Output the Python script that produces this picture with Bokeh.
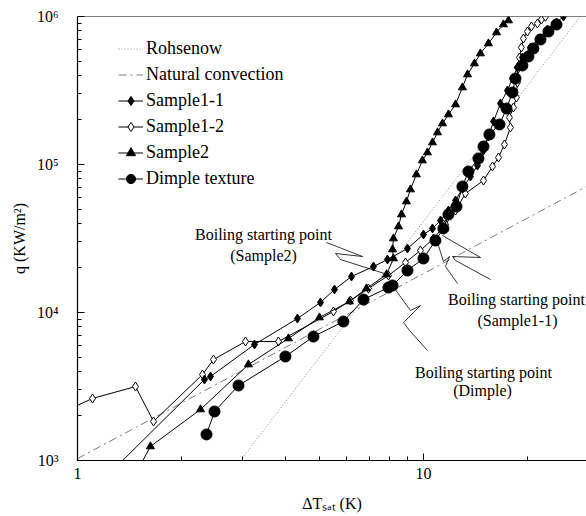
from bokeh.plotting import figure
from bokeh.models import FixedTicker, Legend, LegendItem, Label, Arrow, Span
from bokeh.embed import file_html
from bokeh.resources import INLINE

SERIF = "Liberation Serif"

# ---------------- data ----------------
rohsenow_dt = [2.96, 28.4]
rohsenow_q = [1000, 1000000]

natconv_dt = [1.0, 29.6]
natconv_q = [1030, 71000]

s11_dt = [1.262, 2.328, 2.424, 3.248, 4.323, 5.039, 5.531, 6.194, 7.17, 7.87, 8.99, 10.0,
          10.62, 11.20, 11.81, 12.38, 12.96, 13.67, 14.33, 14.91, 15.41, 15.94, 16.69,
          17.49, 18.08, 18.69, 19.32, 20.38, 21.49, 22.82, 24.24, 25.39]
s11_q = [855, 3525, 3695, 6081, 9100, 11690, 14300, 17500, 20460, 22800, 27060, 33650,
         36970, 41870, 48870, 57110, 68820, 82940, 98450, 124300, 154600, 195200, 258300,
         316200, 381100, 452300, 528400, 617400, 710200, 816600, 911000, 1000000]

s12_dt = [0.899, 1.105, 1.471, 1.659, 2.298, 2.472, 3.059, 3.810, 5.494, 6.152, 6.934,
          7.923, 8.872, 9.802, 10.69, 11.58, 12.38, 13.22, 14.91, 15.83, 16.48, 17.14,
          17.84, 17.72, 18.20, 18.57, 18.69, 18.69, 18.94, 19.19, 19.45, 19.98, 20.52,
          21.35, 21.93, 22.52]
s12_q = [2109, 2624, 3162, 1836, 3811, 4811, 6368, 6368, 10160, 12050, 14520, 17780,
         21770, 26240, 31620, 39350, 48870, 63680, 77950, 96940, 111500, 136500, 177800,
         207800, 242700, 283600, 358100, 452300, 528400, 617400, 710200, 791800, 855900,
         896800, 954300, 995000]

s2_dt = [1.501, 1.625, 2.268, 3.120, 4.072, 5.005, 6.111, 6.843, 7.82, 8.19, 8.14, 8.19,
         8.47, 8.64, 8.93, 9.17, 9.54, 9.93, 10.27, 10.62, 10.98, 11.35, 11.81, 12.38,
         12.96, 13.41, 14.04, 14.61, 15.41, 16.26, 17.03, 17.61]
s2_q = [883, 1244, 2213, 4454, 6675, 9250, 11870, 14520, 18060, 23170, 26660, 31620,
        38110, 45920, 56230, 67760, 85600, 106400, 120500, 140800, 164500, 189200, 217700,
        254300, 331300, 405600, 481400, 562300, 657100, 779600, 883100, 939600]

dim_dt = [2.360, 2.489, 2.920, 3.99, 4.81, 5.87, 6.71, 7.92, 8.14, 8.99, 10.0, 10.83,
          11.42, 11.81, 12.46, 12.96, 13.49, 14.42, 14.91, 15.51, 16.59, 17.38, 18.08,
          18.45, 19.32, 20.11, 20.79, 21.79, 22.98, 24.24]
dim_q = [1500, 2143, 3213, 5043, 6880, 8690, 12240, 14750, 15220, 19220, 23170, 30660,
         36970, 45920, 52030, 71020, 89700, 109800, 132300, 159500, 186400, 239000, 306600,
         381100, 466700, 536700, 607900, 699100, 791800, 883100]

x_major = [1, 10]
x_major_labels = ["1", "10"]
x_minor = [2, 3, 4, 5, 6, 7, 8, 9, 20, 30]
y_major = [1000, 10000, 100000, 1000000]
y_major_labels = ["10\u00b3", "10\u2074", "10\u2075", "10\u2076"]
y_minor = [m * d for d in (1000, 10000, 100000) for m in range(2, 10)]

x_title = "\u0394T\u209b\u2090\u209c (K)"
y_title = "q (KW/m\u00b2)"

# ---------------- figure ----------------
p = figure(width=586, height=516, x_axis_type="log", y_axis_type="log",
           x_range=(1, 29.6), y_range=(1000, 1000000),
           output_backend="svg", toolbar_location=None,
           min_border_left=77, min_border_right=0, min_border_top=16, min_border_bottom=56)
p.grid.visible = False
p.outline_line_color = None
p.background_fill_color = "white"
p.border_fill_color = "white"

for ax, maj, mnr, labs in ((p.xaxis, x_major, x_minor, x_major_labels),
                           (p.yaxis, y_major, y_minor, y_major_labels)):
    ax.ticker = FixedTicker(ticks=maj, minor_ticks=mnr)
    ax.major_label_overrides = {t: l for t, l in zip(maj, labs)}
    ax.axis_line_color = "black"
    ax.axis_line_width = 1.2
    ax.major_tick_in = 7
    ax.major_tick_out = 0
    ax.minor_tick_in = 4
    ax.minor_tick_out = 0
    ax.major_tick_line_color = "black"
    ax.minor_tick_line_color = "black"
    ax.major_label_text_font = SERIF
    ax.major_label_text_font_size = "16px"
    ax.major_label_text_color = "black"
    ax.axis_label_text_font = SERIF
    ax.axis_label_text_font_size = "16px"
    ax.axis_label_text_font_style = "normal"
    ax.axis_label_text_color = "black"
p.xaxis.major_label_standoff = 7
p.yaxis.major_label_standoff = 19
p.xaxis.axis_label = x_title
p.yaxis.axis_label = y_title
p.xaxis.axis_label_standoff = 13
p.yaxis.axis_label_standoff = 6

p.add_layout(Span(location=1000000, dimension="width", line_color="black", line_width=1.2))

# reference correlations
r_roh = p.line(rohsenow_dt, rohsenow_q, line_color="#8a8a8a", line_width=1, line_dash="1 2")
r_nat = p.line(natconv_dt, natconv_q, line_color="#7a7a7a", line_width=1, line_dash="8 4 2 4")

# measured series
l12 = p.line(s12_dt, s12_q, line_color="black", line_width=1)
m12 = p.scatter(s12_dt, s12_q, marker="diamond", size=9, fill_color="white",
                line_color="black", line_width=1)
l11 = p.line(s11_dt, s11_q, line_color="black", line_width=1)
m11 = p.scatter(s11_dt, s11_q, marker="diamond", size=9, fill_color="black",
                line_color="black")
l2 = p.line(s2_dt, s2_q, line_color="black", line_width=1)
m2 = p.scatter(s2_dt, s2_q, marker="triangle", size=8, fill_color="black",
               line_color="black")
ld = p.line(dim_dt, dim_q, line_color="black", line_width=1)
md = p.scatter(dim_dt, dim_q, marker="circle", size=11, fill_color="black",
               line_color="black")

legend = Legend(items=[
    LegendItem(label="Rohsenow", renderers=[r_roh]),
    LegendItem(label="Natural convection", renderers=[r_nat]),
    LegendItem(label="Sample1-1", renderers=[l11, m11]),
    LegendItem(label="Sample1-2", renderers=[l12, m12]),
    LegendItem(label="Sample2", renderers=[l2, m2]),
    LegendItem(label="Dimple texture", renderers=[ld, md]),
], location=(41, 270), glyph_width=25, glyph_height=23, label_height=23, spacing=3,
    padding=0, label_standoff=3, border_line_color=None, background_fill_alpha=0,
    label_text_font=SERIF, label_text_font_size="18px", label_text_color="black")
p.add_layout(legend)

# annotations inside the frame
for t, x, y in (("Boiling starting point", 186, 226), ("(Sample2)", 186, 205),
                ("Boiling starting point", 439, 161), ("(Sample1-1)", 440, 140),
                ("Boiling starting point", 406, 88), ("(Dimple)", 405, 70)):
    p.add_layout(Label(x=x, y=y, x_units="screen", y_units="screen", text=t,
                       text_font=SERIF, text_font_size="16px", text_align="center",
                       text_baseline="middle", text_color="black"))

leaders = [
    [(249, 218), (285, 204), (258, 207), (263, 201), (310, 186)],
    [(365, 225), (403, 203), (375, 204), (378, 200), (413, 181)],
    [(360, 218), (366, 199), (372, 204), (368, 194), (380, 177)],
    [(317, 172), (333, 150), (343, 155), (326, 138), (332, 130), (350, 110)],
]
for poly in leaders:
    for a, b in zip(poly[:-1], poly[1:]):
        p.add_layout(Arrow(end=None, x_start=a[0], y_start=a[1], x_end=b[0], y_end=b[1],
                           start_units="screen", end_units="screen",
                           line_color="black", line_width=0.8))

open("out.html", "w").write(file_html(p, INLINE))
